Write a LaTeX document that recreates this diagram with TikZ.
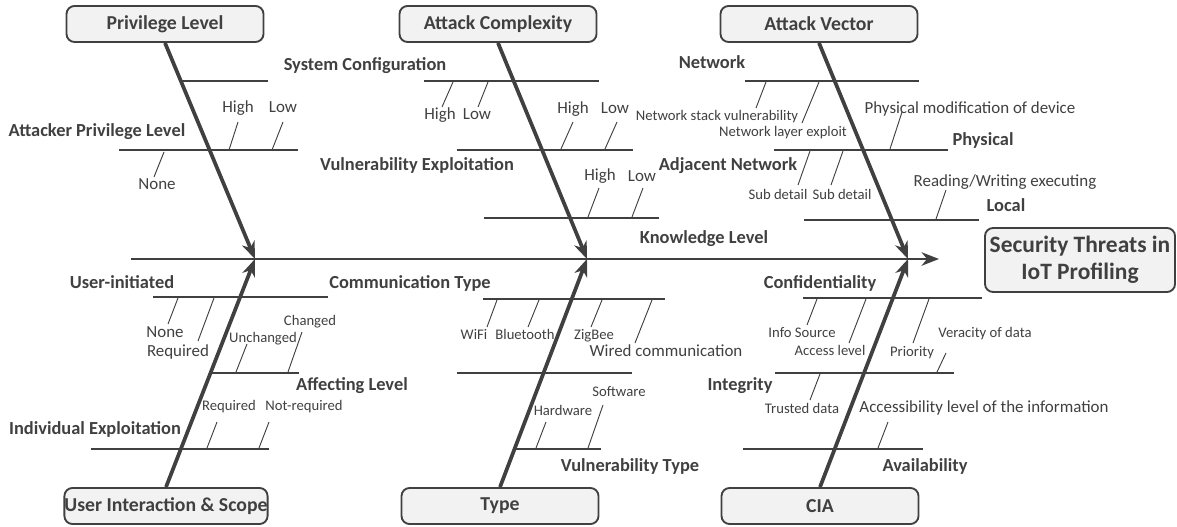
\documentclass[tikz,border=0pt]{standalone}
\usepackage{fontspec}
\setmainfont{Carlito}
\usetikzlibrary{arrows.meta, positioning}
\definecolor{bonegray}{HTML}{404040}
\definecolor{boxfill}{HTML}{F2F2F2}

\begin{document}
\begin{tikzpicture}[x=0.75pt, y=-0.75pt,
    cat/.style={rectangle, draw=bonegray, line width=1.4pt, rounded corners=6pt, fill=boxfill, text=bonegray, font=\fontsize{14.8}{17}\selectfont\bfseries, minimum width=147.75pt, minimum height=27pt, inner sep=0pt},
    effect/.style={cat, align=center, font=\fontsize{17.6}{20.5}\selectfont\bfseries, minimum width=142.5pt, minimum height=48pt},
    bone/.style={draw=bonegray, line width=2.8pt, -{Stealth[length=13pt, width=10pt, inset=4pt]}},
    spine/.style={bone, line width=2.2pt},
    branch/.style={draw=bonegray, line width=2.2pt},
    tick/.style={draw=bonegray, line width=0.7pt},
    cause/.style={text=bonegray, font=\fontsize{13.8}{16}\selectfont\bfseries, inner sep=0pt, text height=0.68em, text depth=0.18em},
    sub/.style={text=bonegray, font=\fontsize{11}{13}\selectfont, inner sep=0pt, text height=0.68em, text depth=0.18em},
    subm/.style={sub, font=\fontsize{12.7}{15}\selectfont}
]
\useasboundingbox (0,0) rectangle (1177,527);

% Category boxes and effect
\node[cat] (privilege) at (165,24) {Privilege Level};
\node[cat] (complexity) at (498,24) {Attack Complexity};
\node[cat] (vector) at (819,24) {Attack Vector};
\node[cat] (interaction) at (166,506) {User Interaction \& Scope};
\node[cat] (type) at (500,506) {Type};
\node[cat] (cia) at (820,506) {CIA};
\node[effect] (threat) at (1080,260) {Security Threats in\\IoT Profiling};

% Spine and joints
\coordinate (tail) at (131,259);
\coordinate (head) at (939,259);
\coordinate (j1) at (255,259);
\coordinate (j2) at (587,259);
\coordinate (j3) at (908,259);

% Branches
\foreach \a/\b/\y in {181/268/81, 119/298/150, 424/599/81, 457/633/150, 484/659/218,
    745/919/81, 774/948/150, 804/979/220, 153/328/297, 212/299/373, 91/269/449,
    483/665/299, 457/632/373, 515/601/449, 803/982/298, 775/954/373, 743/923/449}
  \draw[branch] (\a,\y) -- (\b,\y);

% Sub ticks
\foreach \a/\b/\c/\d in {229/150/238/122, 272/150/283/122, 164/152/154/177,
    453/82/442/107, 488/82/478/107, 561/149/573/122, 605/149/617/122,
    588/217/599/188, 632/217/643/188, 766/82/756/108, 819/82/802/123,
    890/149/902/112, 810/151/798/185, 843/151/831/185, 936/219/946/190,
    178/298/168/324, 214/298/198/341, 236/372/247/344, 288/372/302/332,
    207/448/217/422, 259/448/269/422, 497/300/487/327, 539/300/528/327,
    602/300/591/327, 652/300/635/343, 536/448/546/422, 588/448/603/405,
    817/299/807/325, 866/299/849/343, 929/299/913/343, 937/372/946/353,
    820/374/810/400, 878/448/888/422}
  \draw[tick] (\a,\b) -- (\c,\d);

% Bones
\draw[spine] (tail) -- (head);
\draw[bone] (privilege.south) -- (j1);
\draw[bone] (complexity.south) -- (j2);
\draw[bone] (vector.south) -- (j3);
\draw[bone] (interaction.north) -- (j1);
\draw[bone] (type.north) -- (j2);
\draw[bone] (cia.north) -- (j3);

% Cause labels
\node[cause] (syscfg) at (365,67) {System Configuration};
\node[cause] (attpriv) at (97,133) {Attacker Privilege Level};
\node[cause] (vulnexp) at (417,167) {Vulnerability Exploitation};
\node[cause] (knowledge) at (704,240) {Knowledge Level};
\node[cause] (network) at (712,65) {Network};
\node[cause] (physical) at (983,142) {Physical};
\node[cause] (adjacent) at (728,167) {Adjacent Network};
\node[cause] (local) at (1006,208) {Local};
\node[cause] (userinit) at (122,285) {User-initiated};
\node[cause] (commtype) at (410,285) {Communication Type};
\node[cause] (affecting) at (352,387) {Affecting Level};
\node[cause] (individual) at (95,431) {Individual Exploitation};
\node[cause] (vulntype) at (630,468) {Vulnerability Type};
\node[cause] (confid) at (820,285) {Confidentiality};
\node[cause] (integrity) at (740,387) {Integrity};
\node[cause] (avail) at (925,468) {Availability};

% Detail labels
\foreach \x/\y/\t [count=\i] in {717/117/Network stack vulnerability, 783/133/Network layer exploit,
    778/196/Sub detail, 842/196/Sub detail, 263/339/Unchanged, 310/322/Changed,
    229/407/Required, 304/407/Not-required, 474/336/WiFi, 525/336/Bluetooth,
    594/336/ZigBee, 563/412/Hardware, 619/393/Software, 802/334/Info Source,
    830/352/Access level, 912/353/Priority, 985/334/Veracity of data, 802/410/Trusted data}
  \node[sub] (detail\i) at (\x,\y) {\t};
\foreach \x/\y/\t [count=\i] in {238/109/High, 283/109/Low, 157/186/None, 440/116/High,
    477/116/Low, 573/110/High, 615/110/Low, 600/177/High, 642/178/Low,
    970/110/Physical modification of device, 1005/183/{Reading/Writing executing},
    165/334/None, 178/353/Required, 666/353/Wired communication,
    984/409/Accessibility level of the information}
  \node[subm] (level\i) at (\x,\y) {\t};

\end{tikzpicture}
\end{document}
